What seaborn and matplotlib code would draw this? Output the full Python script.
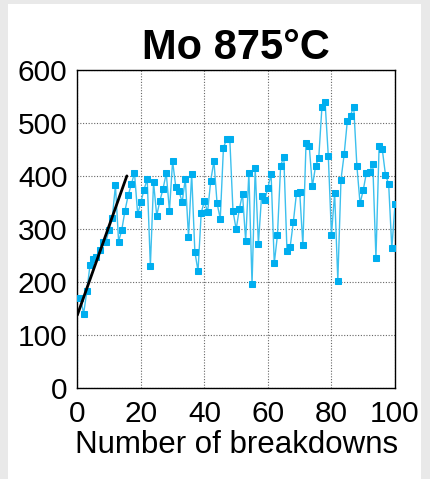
import numpy as np
import pandas as pd
import matplotlib
matplotlib.use("Agg")
import matplotlib.pyplot as plt
import seaborn as sns

# Breakdown field per breakdown event (Mo electrode, 875 °C)
breakdowns = list(range(1, 101))
field = [
    169, 140, 182, 232, 244, 247, 260, 275, 276, 298,
    320, 382, 276, 298, 334, 363, 384, 406, 328, 350,
    374, 394, 230, 388, 325, 353, 376, 405, 334, 428,
    379, 372, 350, 395, 285, 404, 257, 220, 330, 353,
    331, 391, 428, 348, 319, 453, 470, 470, 334, 299,
    337, 366, 277, 406, 195, 414, 271, 362, 355, 378,
    403, 235, 288, 419, 436, 258, 266, 313, 368, 370,
    269, 463, 457, 380, 419, 434, 530, 539, 438, 288,
    368, 202, 393, 441, 504, 514, 531, 419, 348, 373,
    406, 407, 423, 245, 456, 450, 402, 385, 263, 346,
]

# Linear conditioning fit over the first breakdowns
fit_x = [0, 15.6]
fit_y = [137, 400]

title = "Mo 875°C"
xlabel = "Number of breakdowns"
xticks = [0, 20, 40, 60, 80, 100]
yticks = [0, 100, 200, 300, 400, 500, 600]

sns.set_theme(style="white")
plt.rcParams["font.family"] = ["Liberation Sans", "DejaVu Sans"]

fig = plt.figure(figsize=(4.30, 4.79), dpi=100)
fig.patch.set_facecolor("#e9e9e9")
fig.add_artist(plt.Rectangle((8 / 430, 0), 413 / 430, 1 - 4 / 479,
                             transform=fig.transFigure, facecolor="white",
                             edgecolor="none", zorder=0))

ax = fig.add_axes([77.3 / 430, 1 - 387.7 / 479, 317.7 / 430, 317.7 / 479])
ax.set_facecolor("white")

df = pd.DataFrame({"n": breakdowns, "E": field})
sns.lineplot(data=df, x="n", y="E", ax=ax, color="#3cc0ee", linewidth=1.0,
             marker="s", markersize=4.6, markerfacecolor="#00aeef",
             markeredgecolor="#00aeef", zorder=3)
sns.lineplot(x=fit_x, y=fit_y, ax=ax, color="black", linewidth=2.0, zorder=4)

ax.set_xlim(0, 100)
ax.set_ylim(0, 600)
ax.set_xticks(xticks)
ax.set_yticks(yticks)
ax.tick_params(axis="both", direction="in", length=4, width=0.8,
               labelsize=21.5, colors="black")
ax.tick_params(axis="x", pad=9)
ax.tick_params(axis="y", pad=7)
ax.grid(True, linestyle=(0, (1, 1.5)), color="#666666", linewidth=0.8)
ax.set_axisbelow(True)
for s in ax.spines.values():
    s.set_color("black")
    s.set_linewidth(1.0)

ax.set_xlabel(xlabel, fontsize=22.5, color="black", labelpad=1)
ax.set_ylabel("")
ax.set_title(title, fontsize=30, fontweight="bold", color="black", pad=8)

fig.savefig("out.png", dpi=100, facecolor=fig.get_facecolor())
